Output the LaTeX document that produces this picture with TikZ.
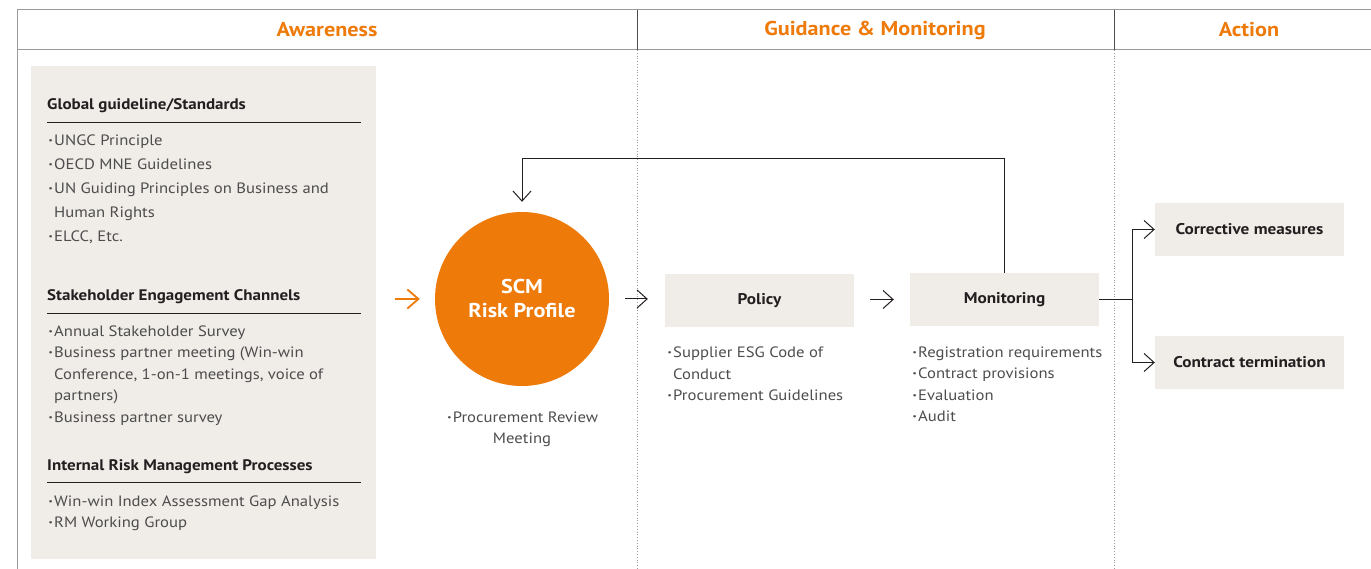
\documentclass[tikz,border=0pt]{standalone}
\usepackage{fontspec}
\setmainfont[FakeStretch=1.11]{PT Sans}
\usetikzlibrary{arrows.meta}
\definecolor{org}{HTML}{EE7A0A}
\definecolor{pane}{HTML}{F0ECE8}
\definecolor{txt}{HTML}{4D4D4D}
\definecolor{hd}{HTML}{231F20}
\definecolor{rulegray}{HTML}{9A9A9A}
\newcommand\bul{\makebox[7pt][c]{\bfseries·}}
\begin{document}
\begin{tikzpicture}[x=1pt,y=-1pt,
  hdr/.style={font=\fontsize{20}{22}\selectfont\bfseries, text=org, inner sep=0pt},
  itm/.style={anchor=base west, font=\fontsize{15}{17}\selectfont, text=txt, inner sep=0pt},
  citm/.style={anchor=base, font=\fontsize{15}{17}\selectfont, text=txt, inner sep=0pt},
  sec/.style={anchor=base west, font=\fontsize{15.3}{17}\selectfont\bfseries, text=hd, inner sep=0pt},
  stepbox/.style={fill=pane, minimum width=189pt, minimum height=53pt, inner sep=0pt,
    font=\fontsize{15.5}{17}\selectfont\bfseries, text=hd},
  arr/.style={-{Straight Barb[length=10pt,width=18pt]}, line width=1pt, draw=hd},
  secrule/.style={draw=hd, line width=0.9pt}
]
\useasboundingbox (0,0) rectangle (1371,569);

% frame
\draw[rulegray, line width=1pt] (17,10) -- (1371,10);
\draw[rulegray, line width=1pt] (17,50) -- (1371,50);
\draw[rulegray, line width=1pt] (17,10) -- (17,569);
\draw[hd!80, line width=0.8pt] (637,10) -- (637,50);
\draw[hd!80, line width=0.8pt] (1114,10) -- (1114,50);
\draw[rulegray, line width=0.8pt, dotted] (637,50) -- (637,569);
\draw[rulegray, line width=0.8pt, dotted] (1114,50) -- (1114,569);

\node[hdr] (h1) at (327,30) {Awareness};
\node[hdr] (h2) at (875,30) {Guidance \& Monitoring};
\node[hdr] (h3) at (1249,30) {Action};

% left panel
\fill[pane] (31,66) rectangle (376,559);

\node[sec] (s1) at (47,110) {Global guideline/Standards};
\draw[secrule] (47,122) -- (361,122);
\node[itm] (g1) at (47,146) {\bul UNGC Principle};
\node[itm] (g2) at (47,170) {\bul OECD MNE Guidelines};
\node[itm] (g3) at (47,194) {\bul UN Guiding Principles on Business and};
\node[itm] (g4) at (54,218) {Human Rights};
\node[itm] (g5) at (47,242) {\bul ELCC, Etc.};

\node[sec] (s2) at (47,301) {Stakeholder Engagement Channels};
\draw[secrule] (47,313) -- (361,313);
\node[itm] (e1) at (47,337) {\bul Annual Stakeholder Survey};
\node[itm] (e2) at (47,358) {\bul Business partner meeting (Win-win};
\node[itm] (e3) at (54,379) {Conference, 1-on-1 meetings, voice of};
\node[itm] (e4) at (54,400) {partners)};
\node[itm] (e5) at (47,422) {\bul Business partner survey};

\node[sec] (s3) at (47,470) {Internal Risk Management Processes};
\draw[secrule] (47,482) -- (361,482);
\node[itm] (r1) at (47,506) {\bul Win-win Index Assessment Gap Analysis};
\node[itm] (r2) at (47,527) {\bul RM Working Group};

% circle
\node[circle, fill=org, minimum size=174pt, inner sep=0pt, align=center,
      font=\fontsize{20}{24}\selectfont\bfseries, text=white] (circ) at (522,299) {SCM\\Risk Profile};
\node[citm] (p1) at (522,422) {\bul Procurement Review};
\node[citm] (p2) at (522,443) {Meeting};

\coordinate (oin) at (395,299);
\draw[-{Straight Barb[length=11pt,width=19pt]}, line width=1.8pt, draw=org, shorten >=15pt] (oin) -- (circ.west);

% boxes
\node[stepbox] (pol) at (759.5,300.5) {Policy};
\node[stepbox] (mon) at (1004.5,299.5) {Monitoring};
\node[stepbox] (corr) at (1249.5,229.5) {Corrective measures};
\node[stepbox] (cont) at (1249.5,362.5) {Contract termination};

\draw[arr, shorten <=16pt, shorten >=17pt] (circ.east) -- (circ.east -| pol.west);
\draw[arr, shorten <=16pt, shorten >=16pt] (pol.east |- mon.west) -- (mon.west);

\coordinate (fb) at (522,159);
\draw[arr, shorten >=10pt] (mon.north) |- (fb) -- (circ.north);

\coordinate (br) at (1132,299.5);
\draw[hd, line width=1pt] (mon.east) -- (br);
\draw[arr] (br) |- (corr.west);
\draw[arr] (br) |- (cont.west);

% lists
\node[itm] (a1) at (666,357) {\bul Supplier ESG Code of};
\node[itm] (a2) at (673,379) {Conduct};
\node[itm] (a3) at (666,400) {\bul Procurement Guidelines};

\node[itm] (m1) at (911,357) {\bul Registration requirements};
\node[itm] (m2) at (911,378) {\bul Contract provisions};
\node[itm] (m3) at (911,400) {\bul Evaluation};
\node[itm] (m4) at (911,421) {\bul Audit};
\end{tikzpicture}
\end{document}
